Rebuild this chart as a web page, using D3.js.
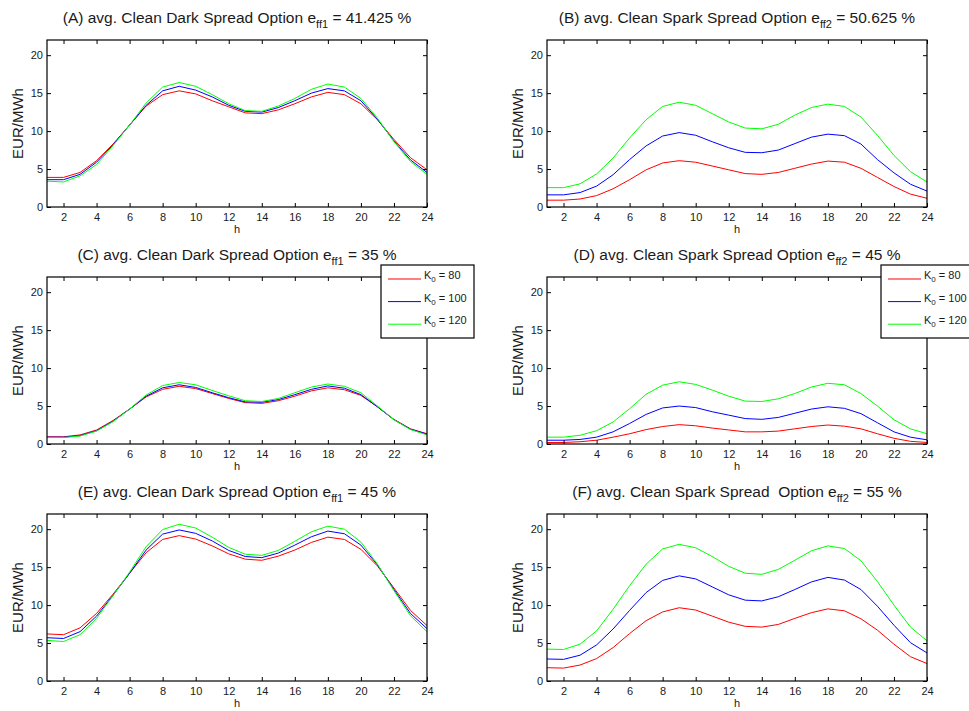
<!DOCTYPE html>
<html>
  <head>
    <title>Clean Dark / Spark Spread Options</title>
    <script src="https://d3js.org/d3.v7.min.js"></script>
    <style>
      body { margin: 0; background: #fff; }
      svg text { font-family: "Liberation Sans", Arial, sans-serif; fill: #1a1a1a; }
      .tick text { font-size: 11px; }
      .title { font-size: 15.5px; white-space: pre; }
      .axis-label { font-size: 15px; }
      .xlabel { font-size: 11px; }
      .legend text { font-size: 11px; }
    </style>
  </head>
  <body>
    <svg width="969" height="711"></svg>

    <script>
      const hours = [1, 2, 3, 4, 5, 6, 7, 8, 9, 10, 11, 12, 13, 14, 15, 16, 17, 18, 19, 20, 21, 22, 23, 24];
      const xTicks = [2, 4, 6, 8, 10, 12, 14, 16, 18, 20, 22, 24];
      const yTicks = [0, 5, 10, 15, 20];
      const strikes = ["80", "100", "120"];
      const colors = ["#ff0000", "#0000ff", "#00ff00"];

      // (A) dark spread, eff1 = 41.425 %
      const redA   = [3.9, 3.9, 4.55, 6.1, 8.3, 10.8, 13.3, 14.8, 15.3, 14.9, 14.0, 13.2, 12.4, 12.3, 12.8, 13.6, 14.5, 15.1, 14.8, 13.6, 11.5, 8.9, 6.5, 4.9];
      const blueA  = [3.6, 3.6, 4.3, 5.9, 8.2, 10.8, 13.4, 15.3, 15.9, 15.4, 14.5, 13.4, 12.6, 12.5, 13.1, 14.0, 15.0, 15.6, 15.3, 14.0, 11.55, 8.7, 6.2, 4.55];
      const greenA = [3.4, 3.3, 4.1, 5.6, 8.1, 10.8, 13.7, 15.8, 16.4, 15.9, 14.8, 13.6, 12.7, 12.6, 13.3, 14.3, 15.5, 16.2, 15.8, 14.3, 11.7, 8.6, 6.0, 4.3];

      // (B) spark spread, eff2 = 50.625 %
      const redB   = [0.9, 0.9, 1.05, 1.5, 2.4, 3.6, 4.9, 5.8, 6.1, 5.9, 5.4, 4.9, 4.4, 4.3, 4.55, 5.1, 5.65, 6.05, 5.9, 5.1, 3.9, 2.7, 1.7, 1.15];
      const blueB  = [1.6, 1.6, 1.9, 2.75, 4.25, 6.25, 8.05, 9.35, 9.8, 9.45, 8.6, 7.8, 7.2, 7.15, 7.5, 8.35, 9.2, 9.6, 9.4, 8.3, 6.25, 4.5, 3.0, 2.1];
      const greenB = [2.55, 2.55, 3.05, 4.35, 6.45, 9.1, 11.5, 13.25, 13.8, 13.4, 12.3, 11.2, 10.4, 10.3, 10.9, 12.1, 13.1, 13.55, 13.25, 11.85, 9.45, 6.8, 4.65, 3.3];

      // (C) dark spread, eff1 = 35 %
      const redC   = [0.95, 0.95, 1.2, 1.85, 3.1, 4.6, 6.2, 7.2, 7.6, 7.3, 6.65, 6.0, 5.45, 5.35, 5.7, 6.3, 7.0, 7.4, 7.15, 6.4, 4.9, 3.25, 2.0, 1.35];
      const blueC  = [0.9, 0.9, 1.1, 1.75, 3.0, 4.6, 6.3, 7.4, 7.8, 7.45, 6.75, 6.1, 5.55, 5.5, 5.85, 6.5, 7.2, 7.65, 7.35, 6.5, 4.9, 3.2, 1.95, 1.3];
      const greenC = [0.85, 0.85, 1.05, 1.7, 2.95, 4.6, 6.45, 7.7, 8.1, 7.8, 7.05, 6.35, 5.7, 5.6, 6.0, 6.75, 7.5, 7.9, 7.6, 6.75, 5.0, 3.2, 1.9, 1.2];

      // (D) spark spread, eff2 = 45 %
      const redD   = [0.2, 0.2, 0.3, 0.5, 0.9, 1.35, 1.9, 2.3, 2.55, 2.4, 2.1, 1.85, 1.6, 1.6, 1.7, 2.0, 2.3, 2.5, 2.35, 2.0, 1.35, 0.75, 0.35, 0.2];
      const blueD  = [0.5, 0.5, 0.6, 0.9, 1.6, 2.7, 3.9, 4.75, 5.0, 4.8, 4.25, 3.8, 3.35, 3.25, 3.5, 4.05, 4.6, 4.9, 4.7, 4.0, 2.8, 1.6, 0.9, 0.55];
      const greenD = [0.9, 0.9, 1.15, 1.75, 2.9, 4.65, 6.55, 7.75, 8.2, 7.85, 7.1, 6.3, 5.65, 5.6, 5.95, 6.65, 7.5, 8.0, 7.8, 6.65, 5.0, 3.2, 2.0, 1.35];

      // (E) dark spread, eff1 = 45 %
      const redE   = [6.2, 6.1, 7.0, 8.9, 11.45, 14.2, 16.9, 18.65, 19.15, 18.7, 17.8, 16.75, 16.05, 15.9, 16.45, 17.25, 18.25, 18.95, 18.65, 17.35, 15.15, 12.25, 9.3, 7.3];
      const blueE  = [5.7, 5.6, 6.5, 8.55, 11.3, 14.2, 17.25, 19.35, 19.9, 19.45, 18.45, 17.2, 16.4, 16.25, 16.85, 17.9, 19.0, 19.75, 19.4, 17.9, 15.3, 12.05, 8.9, 6.9];
      const greenE = [5.35, 5.2, 6.1, 8.25, 11.25, 14.35, 17.7, 19.95, 20.65, 20.15, 18.95, 17.6, 16.7, 16.55, 17.2, 18.4, 19.65, 20.4, 20.0, 18.3, 15.4, 11.9, 8.6, 6.5];

      // (F) spark spread, eff2 = 55 %
      const redF   = [1.75, 1.7, 2.1, 2.95, 4.4, 6.25, 7.95, 9.1, 9.65, 9.35, 8.55, 7.75, 7.2, 7.1, 7.45, 8.25, 9.0, 9.5, 9.25, 8.2, 6.7, 4.85, 3.2, 2.3];
      const blueF  = [2.9, 2.85, 3.4, 4.75, 6.85, 9.3, 11.65, 13.25, 13.85, 13.45, 12.4, 11.35, 10.65, 10.55, 11.1, 12.05, 13.05, 13.65, 13.3, 12.05, 9.85, 7.35, 5.05, 3.7];
      const greenF = [4.2, 4.15, 4.85, 6.6, 9.45, 12.55, 15.4, 17.4, 18.0, 17.55, 16.4, 15.1, 14.2, 14.05, 14.7, 15.9, 17.15, 17.8, 17.45, 15.85, 13.1, 10.0, 7.1, 5.3];

      const panels = [
        { x: 47,  y: 40,  title: ["(A) avg. Clean Dark Spread Option e", "ff1", " = 41.425 %"], series: [redA, blueA, greenA] },
        { x: 547, y: 40,  title: ["(B) avg. Clean Spark Spread Option e", "ff2", " = 50.625 %"], series: [redB, blueB, greenB] },
        { x: 47,  y: 277, title: ["(C) avg. Clean Dark Spread Option e", "ff1", " = 35 %"], series: [redC, blueC, greenC], legend: true },
        { x: 547, y: 277, title: ["(D) avg. Clean Spark Spread Option e", "ff2", " = 45 %"], series: [redD, blueD, greenD], legend: true },
        { x: 47,  y: 514, title: ["(E) avg. Clean Dark Spread Option e", "ff1", " = 45 %"], series: [redE, blueE, greenE] },
        { x: 547, y: 514, title: ["(F) avg. Clean Spark Spread  Option e", "ff2", " = 55 %"], series: [redF, blueF, greenF] }
      ];

      const width = 380, height = 167;

      function drawPanel(svg, p) {
        const g = svg.append("g").attr("transform", `translate(${p.x},${p.y})`);
        const x = d3.scaleLinear().domain([1, 24]).range([0, width]);
        const y = d3.scaleLinear().domain([0, 22]).range([height, 0]);

        g.append("rect").attr("width", width).attr("height", height).attr("fill", "#fff");

        const line = d3.line().x((d, i) => x(hours[i])).y(d => y(d));
        p.series.forEach((s, i) => {
          g.append("path").datum(s)
            .attr("d", line)
            .attr("fill", "none")
            .attr("stroke", colors[i])
            .attr("stroke-width", 1);
        });

        g.append("g").attr("transform", `translate(0,${height})`)
          .call(d3.axisBottom(x).tickValues(xTicks).tickSize(-4).tickPadding(6));
        g.append("g").call(d3.axisTop(x).tickValues(xTicks).tickSize(-4).tickFormat(""));
        g.append("g").call(d3.axisLeft(y).tickValues(yTicks).tickSize(-4).tickPadding(4));
        g.append("g").attr("transform", `translate(${width},0)`)
          .call(d3.axisRight(y).tickValues(yTicks).tickSize(-4).tickFormat(""));
        g.selectAll(".domain").remove();
        g.selectAll(".tick line").attr("stroke", "#000");

        g.append("rect").attr("width", width).attr("height", height)
          .attr("fill", "none").attr("stroke", "#000").attr("stroke-width", 1.2);

        const t = g.append("text").attr("class", "title")
          .attr("x", width / 2).attr("y", -17).attr("text-anchor", "middle");
        t.append("tspan").text(p.title[0]);
        t.append("tspan").attr("dy", 5).style("font-size", "11px").text(p.title[1]);
        t.append("tspan").attr("dy", -5).text(p.title[2]);

        g.append("text").attr("class", "axis-label")
          .attr("transform", `translate(-24,${height / 2}) rotate(-90)`)
          .attr("text-anchor", "middle").text("EUR/MWh");

        g.append("text").attr("class", "xlabel")
          .attr("x", width / 2).attr("y", height + 26).attr("text-anchor", "middle").text("h");

        if (p.legend) {
          const lg = g.append("g").attr("class", "legend").attr("transform", `translate(${width - 46},-12)`);
          lg.append("rect").attr("width", 93).attr("height", 73)
            .attr("fill", "#fff").attr("stroke", "#000").attr("stroke-width", 1.2);
          strikes.forEach((k, i) => {
            const row = lg.append("g").attr("transform", `translate(0,${14 + i * 22.6})`);
            row.append("line").attr("x1", 7).attr("x2", 40)
              .attr("stroke", colors[i]).attr("stroke-width", 1);
            const tx = row.append("text").attr("x", 43).attr("y", 0);
            tx.append("tspan").text("K");
            tx.append("tspan").attr("dy", 3).style("font-size", "8px").text("0");
            tx.append("tspan").attr("dy", -3).text(" = " + k);
          });
        }
      }

      function main() {
        const svg = d3.select("svg");
        panels.forEach(p => drawPanel(svg, p));
      }
      main();
    </script>
  </body>
</html>
